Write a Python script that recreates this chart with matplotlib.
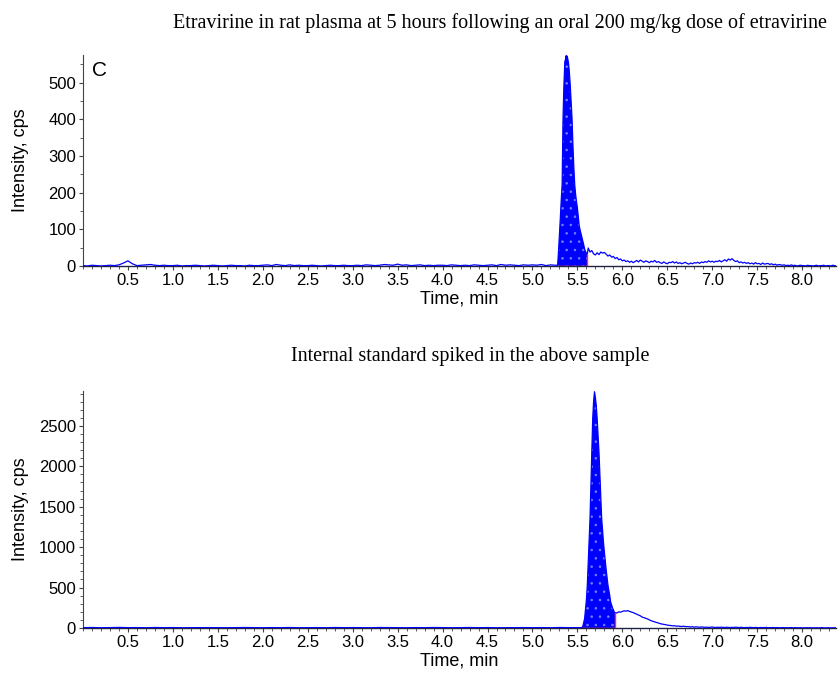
import numpy as np
import matplotlib
matplotlib.use('Agg')
import matplotlib.pyplot as plt
from matplotlib.ticker import MultipleLocator, FixedLocator

plt.rcParams['font.family'] = ['Liberation Sans', 'DejaVu Sans']
plt.rcParams['hatch.linewidth'] = 0.6

# ---- Top panel: etravirine ----
# flat baseline before the peak (sampled every 0.05 min from 0.00)
top_base_start, top_base_step = 0.00, 0.05
top_base = [1, 0, 2, 1, 0, 1, 2, 1, 3, 8,
            14, 6, 1, 2, 3, 4, 2, 1, 2, 1,
            1, 2, 0, 1, 1, 2, 1, 0, 1, 2,
            1, 0, 1, 2, 1, 1, 0, 2, 1, 1,
            2, 3, 1, 4, 2, 1, 3, 1, 2, 1,
            1, 2, 1, 0, 1, 2, 1, 1, 2, 1,
            1, 2, 1, 3, 2, 1, 2, 4, 3, 2,
            5, 2, 3, 1, 2, 3, 1, 2, 1, 2,
            2, 1, 3, 2, 1, 2, 1, 3, 2, 1,
            2, 3, 1, 4, 2, 3, 2, 1, 3, 2,
            3, 2, 4, 1, 3, 2]

# integrated peak
top_peak_t = [5.28, 5.29, 5.30, 5.31, 5.32, 5.33, 5.335, 5.34, 5.35, 5.36, 5.37,
              5.375, 5.38, 5.385, 5.39, 5.40, 5.41, 5.42, 5.43, 5.44, 5.45, 5.46,
              5.47, 5.48, 5.49, 5.50, 5.51, 5.52, 5.53, 5.54, 5.55, 5.56, 5.57,
              5.58, 5.59, 5.60, 5.61]
top_peak_y = [2, 41, 85, 131, 180, 222, 312, 403, 494, 557, 565,
              573, 550, 572, 568, 555, 530, 494, 450, 403, 330, 270,
              222, 195, 175, 158, 135, 110, 98, 88, 78, 68, 58,
              46, 40, 35, 32]

# tail after the peak (every 0.02 min from 5.62)
top_tail_start, top_tail_step = 5.62, 0.02
top_tail = [49, 38, 42, 33, 30, 36, 31, 38, 35, 37,
            32, 27, 30, 24, 26, 20, 23, 17, 19, 14,
            16, 12, 14, 10, 13, 9, 12, 15, 11, 16,
            13, 10, 14, 12, 9, 13, 11, 15, 10, 12,
            9, 7, 11, 8, 6, 10, 9, 12, 8, 11,
            7, 9, 6, 8, 10, 7, 5, 8, 6, 9,
            8, 10, 7, 11, 9, 12, 10, 14, 11, 13,
            10, 13, 12, 15, 11, 14, 17, 13, 19, 16,
            20, 15, 12, 14, 9, 11, 8, 10, 7, 9,
            6, 8, 5, 9, 6, 7, 4, 8, 5, 6,
            7, 4, 6, 3, 5, 2, 4, 3, 2, 3,
            1, 2, 1, 3, 1, 2, 0, 1, 2, 1,
            1, 0, 2, 1, 1, 0, 1, 2, 0, 1,
            1, 2, 0, 1, 1, 0, 2, 1, 0, 1]

# ---- Bottom panel: internal standard ----
bot_base_start, bot_base_step = 0.0, 0.1
bot_base = [4, 6, 3, 5, 7, 4, 5, 3, 6, 4,
            5, 3, 4, 6, 5, 4, 3, 5, 6, 4,
            3, 5, 4, 6, 3, 4, 5, 3, 6, 4,
            5, 4, 3, 6, 5, 4, 3, 5, 4, 6,
            4, 3, 5, 6, 4, 5, 3, 4, 6, 5,
            4, 5, 3, 6, 4, 5]

bot_peak_t = [5.55, 5.56, 5.58, 5.60, 5.61, 5.625, 5.64, 5.65, 5.66, 5.67, 5.68,
              5.69, 5.70, 5.71, 5.72, 5.73, 5.74, 5.75, 5.76, 5.77, 5.78, 5.79,
              5.80, 5.82, 5.84, 5.86, 5.87, 5.89, 5.91, 5.92]
bot_peak_y = [5, 20, 115, 350, 527, 938, 1350, 1761, 2173, 2584, 2800,
              2922, 2850, 2750, 2584, 2380, 2173, 1900, 1600, 1350, 1200, 1060,
              938, 720, 527, 400, 321, 250, 198, 190]

bot_tail_start, bot_tail_step = 5.94, 0.02
bot_tail = [185, 200, 195, 205, 212, 208, 215, 205, 198, 190,
            180, 170, 160, 150, 135, 128, 120, 112, 100, 90,
            82, 75, 68, 60, 55, 48, 45, 40, 36, 32,
            30, 26, 28, 22, 24, 20, 18, 22, 17, 18,
            15, 12, 16, 10, 14, 11, 9, 13, 10, 8,
            10, 7, 9, 12, 8, 6, 9, 7, 10, 8,
            6, 9, 7, 5, 8, 6, 10, 7, 5, 8,
            6, 4, 7, 5, 8, 6, 4, 7, 5, 3,
            6, 4, 5, 7, 3, 5, 4, 6, 3, 5,
            4, 2, 5, 3, 4, 2, 3, 5, 2, 4,
            3, 2, 4, 1, 3, 2, 4, 2, 3, 1,
            2, 3, 1, 2, 4, 2, 1, 3, 2, 1, 2, 3, 1, 2]

x_ticks = [0.5, 1.0, 1.5, 2.0, 2.5, 3.0, 3.5, 4.0, 4.5, 5.0, 5.5, 6.0, 6.5, 7.0, 7.5, 8.0]

title_top = 'Etravirine in rat plasma at 5 hours following an oral 200 mg/kg dose of etravirine'
title_bot = 'Internal standard spiked in the above sample'


def grid(start, step, vals):
    return start + step * np.arange(len(vals))


def draw(ax, base, peak_t, peak_y, tail, ymax, ymajor, yminor):
    bt = grid(*base[:2], base[2])
    tt = grid(*tail[:2], tail[2])
    t = np.concatenate([bt, peak_t, tt])
    y = np.concatenate([base[2], peak_y, tail[2]])
    ax.fill_between(peak_t, 0, peak_y, facecolor='#0000ff', edgecolor='#7080ff',
                    hatch='..', linewidth=0, zorder=2)
    ax.plot(t, y, color='#0000ff', linewidth=0.9, zorder=3)
    ax.plot([peak_t[0], peak_t[-1]], [0, 0], color='#ff3030', linewidth=1.0, zorder=4)
    ax.plot([peak_t[-1], peak_t[-1]], [0, peak_y[-1]], color='#ff3030', linewidth=1.0, zorder=4)
    ax.set_xlim(0, 8.38)
    ax.set_ylim(0, ymax)
    ax.xaxis.set_major_locator(FixedLocator(x_ticks))
    ax.set_xticklabels([f'{v:.1f}' for v in x_ticks])
    ax.xaxis.set_minor_locator(MultipleLocator(0.1))
    ax.yaxis.set_major_locator(MultipleLocator(ymajor))
    ax.yaxis.set_minor_locator(MultipleLocator(yminor))
    for s in ['top', 'right']:
        ax.spines[s].set_visible(False)
    ax.spines['left'].set_color('#444444')
    ax.spines['bottom'].set_color('#222244')
    ax.spines['left'].set_linewidth(0.8)
    ax.spines['bottom'].set_linewidth(1.0)
    ax.tick_params(which='major', length=3, width=0.8, color='#444444',
                   labelsize=12, pad=2)
    ax.tick_params(which='minor', length=2, width=0.6, color='#444444')
    ax.set_xlabel('Time, min', fontsize=13, labelpad=2)
    ax.set_ylabel('Intensity, cps', fontsize=13)
    ax.yaxis.set_label_coords(-0.071, 0.5)


fig = plt.figure(figsize=(8.38, 6.73), dpi=100)
ax1 = fig.add_axes([0.099, 0.6048, 0.899, 0.3135])
ax2 = fig.add_axes([0.099, 0.0669, 0.899, 0.352])

draw(ax1, (top_base_start, top_base_step, top_base), top_peak_t, top_peak_y,
     (top_tail_start, top_tail_step, top_tail), 575, 100, 50)
draw(ax2, (bot_base_start, bot_base_step, bot_base), bot_peak_t, bot_peak_y,
     (bot_tail_start, bot_tail_step, bot_tail), 2930, 500, 100)

ax1.text(0.012, 0.97, 'C', transform=ax1.transAxes, fontsize=15, va='top', ha='left')

fig.text(0.597, 0.966, title_top, family='Liberation Serif', fontsize=14.5,
         ha='center', va='center')
fig.text(0.561, 0.471, title_bot, family='Liberation Serif', fontsize=14.5,
         ha='center', va='center')

fig.savefig('out.png', dpi=100)
